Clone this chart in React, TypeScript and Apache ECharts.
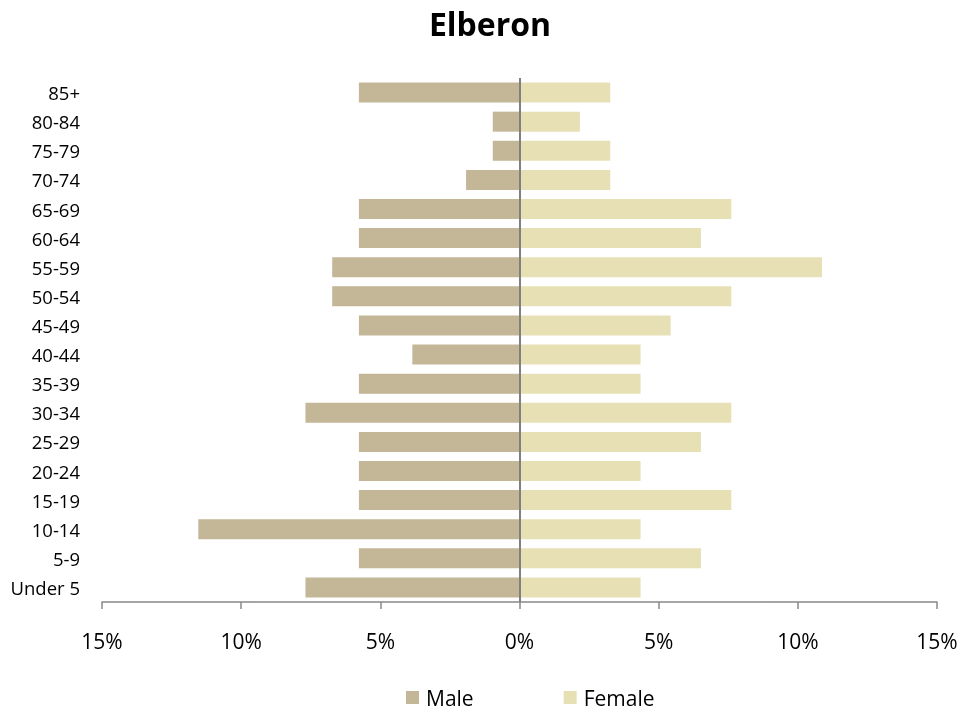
import React, { useEffect, useRef } from "react";
import * as echarts from "echarts";

const categories = ["Under 5", "5-9", "10-14", "15-19", "20-24", "25-29", "30-34", "35-39", "40-44", "45-49", "50-54", "55-59", "60-64", "65-69", "70-74", "75-79", "80-84", "85+"];
const malePct = [7.69, 5.77, 11.54, 5.77, 5.77, 5.77, 7.69, 5.77, 3.85, 5.77, 6.73, 6.73, 5.77, 5.77, 1.92, 0.96, 0.96, 5.77];
const femalePct = [4.35, 6.52, 4.35, 7.61, 4.35, 6.52, 7.61, 4.35, 4.35, 5.43, 7.61, 10.87, 6.52, 7.61, 3.26, 3.26, 2.17, 3.26];
const xTicks = { min: -15, max: 15, interval: 5 };

const FONT = "'Open Sans', sans-serif";

export default function App() {
  const ref = useRef<HTMLDivElement>(null);
  useEffect(() => {
    if (!ref.current) return;
    const chart = echarts.init(ref.current, null, { renderer: "svg" });
    chart.setOption({
      animation: false,
      title: {
        text: "Elberon",
        left: 485,
        top: 2,
        textAlign: "center",
        textStyle: { fontFamily: FONT, fontSize: 32, fontWeight: "bold", color: "#000" },
      },
      legend: {
        left: 406,
        top: 687,
        padding: 0,
        itemWidth: 13,
        itemHeight: 13,
        itemGap: 90,
        icon: "rect",
        textStyle: { fontFamily: FONT, fontSize: 21, lineHeight: 21, color: "#000", padding: [0, 0, 0, 2] },
        data: ["Male", "Female"],
      },
      grid: { left: 102, right: 42, top: 78, bottom: 111, containLabel: false },
      xAxis: {
        type: "value",
        min: xTicks.min,
        max: xTicks.max,
        interval: xTicks.interval,
        axisLine: { show: true, onZero: false, lineStyle: { color: "#888888", width: 1.5 } },
        axisTick: { show: true, length: 7, lineStyle: { color: "#888888", width: 1.5 } },
        splitLine: { show: false },
        axisLabel: {
          fontFamily: FONT,
          fontSize: 21,
          color: "#000",
          margin: 28,
          formatter: (v: number) => Math.abs(v) + "%",
        },
      },
      yAxis: {
        type: "category",
        data: categories,
        axisLine: { show: false },
        axisTick: { show: false },
        axisLabel: { fontFamily: FONT, fontSize: 18.5, color: "#000", margin: 22 },
      },
      series: [
        {
          name: "Male",
          type: "bar",
          stack: "total",
          barWidth: 20,
          itemStyle: { color: "#C4B797" },
          data: malePct.map((v) => -v),
          markLine: {
            silent: true,
            symbol: "none",
            label: { show: false },
            lineStyle: { color: "#808080", width: 2, type: "solid" },
            data: [{ xAxis: 0 }],
          },
        },
        {
          name: "Female",
          type: "bar",
          stack: "total",
          barWidth: 20,
          itemStyle: { color: "#E8E0B5" },
          data: femalePct,
        },
      ],
    });
    return () => chart.dispose();
  }, []);
  return <div ref={ref} style={{ position: "fixed", left: 0, top: 0, width: 979, height: 713 }} />;
}
